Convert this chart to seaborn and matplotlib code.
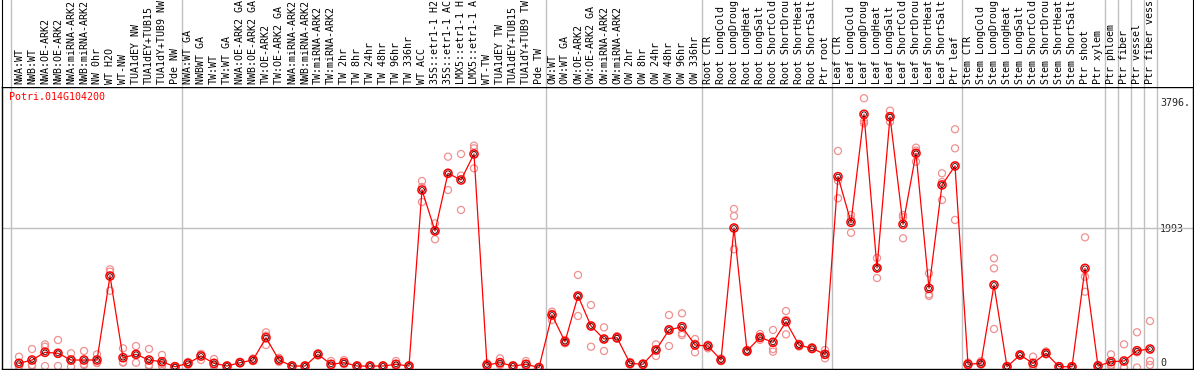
import numpy as np
import pandas as pd
import matplotlib
matplotlib.use('Agg')
import matplotlib.pyplot as plt
import seaborn as sns

# sample labels (shown truncated to 14 chars like the original)
labels = ['NWA:WT', 'NWB:WT', 'NWA:OE-ARK2', 'NWB:OE-ARK2', 'NWA:miRNA-ARK2', 'NWB:miRNA-ARK2',
          'NW 0hr', 'WT H2O', 'WT-NW', 'TUA1dEY NW', 'TUA1dEY+TUB15', 'TUA1dY+TUB9 NW', 'Pde NW',
          'NWA:WT GA', 'NWBWT GA', 'TW:WT', 'TW:WT GA', 'NWA:OE-ARK2 GA', 'NWB:OE-ARK2 GA',
          'TW:OE-ARK2', 'TW:OE-ARK2 GA', 'NWA:miRNA-ARK2', 'NWB:miRNA-ARK2', 'TW:miRNA-ARK2',
          'TW:miRNA-ARK2', 'TW 2hr', 'TW 8hr', 'TW 24hr', 'TW 48hr', 'TW 96hr', 'TW 336hr',
          'WT ACC', '35S::etr1-1 H2', '35S::etr1-1 AC', 'LMX5::etr1-1 H', 'LMX5::etr1-1 A',
          'WT-TW', 'TUA1dEY TW', 'TUA1dEY+TUB15', 'TUA1dY+TUB9 TW', 'Pde TW',
          'OW:WT', 'OW:WT GA', 'OW:OE-ARK2', 'OW:OE-ARK2 GA', 'OW:miRNA-ARK2', 'OW:miRNA-ARK2',
          'OW 2hr', 'OW 8hr', 'OW 24hr', 'OW 48hr', 'OW 96hr', 'OW 336hr',
          'Root CTR', 'Root LongCold', 'Root LongDroug', 'Root LongHeat', 'Root LongSalt',
          'Root ShortCold', 'Root ShortDrou', 'Root ShortHeat', 'Root ShortSalt', 'Ptr root',
          'Leaf CTR', 'Leaf LongCold', 'Leaf LongDroug', 'Leaf LongHeat', 'Leaf LongSalt',
          'Leaf ShortCold', 'Leaf ShortDrou', 'Leaf ShortHeat', 'Leaf ShortSalt', 'Ptr leaf',
          'Stem CTR', 'Stem LongCold', 'Stem LongDroug', 'Stem LongHeat', 'Stem LongSalt',
          'Stem ShortCold', 'Stem ShortDrou', 'Stem ShortHeat', 'Stem ShortSalt', 'Ptr shoot',
          'Ptr xylem', 'Ptr phloem', 'Ptr fiber', 'Ptr vessel', 'Ptr fiber vess']

# mean expression per sample
means = [60, 107, 217, 203, 107, 107, 107, 1307, 140, 188, 107, 83, 11,
         60, 164, 60, 21, 69, 107, 426, 107, 21, 21, 188, 46, 69, 21, 21, 21, 46, 21,
         2536, 1951, 2775, 2679, 3051, 36, 69, 21, 46, 0,
         750, 369, 1022, 593, 407, 426, 60, 46, 250, 536, 583, 321,
         307, 107, 1993, 236, 431, 360, 655, 321, 274, 188,
         2727, 2075, 3618, 1422, 3584, 2046, 3061, 1131, 2608, 2880,
         46, 60, 1179, 11, 179, 60, 203, 11, 11, 1417,
         21, 83, 93, 240, 264]

# replicate values per sample
reps = [[154, 11, 21], [264, 21, 36], [331, 297, 21], [393, 21, 195], [203, 11, 107],
        [236, 36, 50], [188, 69, 64], [1403, 1369, 1097], [274, 69, 77], [307, 69, 188],
        [264, 21, 36], [179, 21, 50], [0, 11, 21],
        [80, 60, 40], [193, 107, 190], [121, 21, 40], [11, 21, 30], [80, 60, 69],
        [130, 100, 90], [503, 321, 455], [140, 80, 100], [11, 21, 30], [11, 21, 30],
        [203, 170, 190], [93, 21, 25], [107, 50, 50], [11, 21, 30], [11, 21, 30],
        [11, 21, 30], [93, 21, 25], [11, 21, 30],
        [2665, 2365, 2580], [2060, 1832, 1960], [3012, 2536, 2779], [3051, 2741, 2251],
        [3170, 3132, 2846], [60, 21, 30], [131, 40, 36], [11, 21, 30], [93, 21, 25], [0, 0, 0],
        [679, 798, 770], [393, 345, 369], [1322, 736, 1010], [893, 297, 590], [574, 236, 410],
        [450, 410, 420], [80, 60, 40], [60, 40, 40], [331, 164, 255], [750, 307, 550],
        [774, 489, 464], [407, 217, 340],
        [274, 320, 327], [130, 100, 90], [2265, 2165, 1689], [250, 220, 240], [479, 420, 395],
        [536, 264, 226], [807, 474, 680], [340, 300, 321], [290, 260, 272], [250, 131, 185],
        [3094, 2418, 2670], [2179, 1926, 2120], [3847, 3490, 3520], [1565, 1279, 1420],
        [3670, 3512, 3570], [2179, 2146, 1846], [3141, 2941, 3100], [1346, 1046, 1022],
        [2775, 2394, 2650], [3404, 3132, 2108],
        [70, 40, 30], [90, 50, 40], [1560, 1417, 550], [0, 11, 21], [190, 170, 180],
        [155, 21, 10], [230, 190, 190], [0, 11, 21], [0, 11, 21], [1860, 1298, 1083],
        [40, 21, 0], [188, 40, 20], [331, 0, 0], [503, 0, 217], [664, 93, 36]]

gene = 'Potri.014G104200'
ytick_vals = [0, 1993, 3796]
ytick_text = ['0', '1993', '3796.']
group_breaks = [-0.6, 12.5, 40.5, 52.5, 62.5, 72.5, 83.5, 84.5, 85.5, 86.5, 87.5]

sns.set_style('white')
plt.rcParams['font.family'] = ['DejaVu Sans Mono']
fs = 7.2

#data frames
df_mean = pd.DataFrame({'pos': np.arange(len(means)), 'value': means})
df_rep = pd.DataFrame([(i, v) for i, r in enumerate(reps) for v in r], columns=['pos', 'value'])

W, H = 1194, 370
fig = plt.figure(figsize=(W / 100, H / 100), dpi=100)
ax = fig.add_axes([2 / W, 1 / H, 1191 / W, 282 / H])
axl = fig.add_axes([2 / W, 283 / H, 1191 / W, 87 / H])

xlim = (-17 / 13, 1174 / 13)
ax.set_xlim(xlim)
axl.set_xlim(xlim)
ax.set_ylim(-21.4, 4008)
axl.set_ylim(0, 1)

#group separators and mid grid line
for b in group_breaks:
    ax.axvline(b, color='#c0c0c0', lw=1, zorder=1)
    axl.axvline(b, color='#c0c0c0', lw=1, zorder=1)
ax.axhline(1993, color='#c0c0c0', lw=1, zorder=1)

#replicates
sns.scatterplot(data=df_rep, x='pos', y='value', ax=ax, marker='o', s=26,
                facecolor='none', edgecolor='#f09090', linewidth=0.9, zorder=2, legend=False)
#mean line
sns.lineplot(data=df_mean, x='pos', y='value', ax=ax, color='red', lw=0.9, zorder=3, legend=False)
sns.scatterplot(data=df_mean, x='pos', y='value', ax=ax, marker='o', s=34,
                facecolor='none', edgecolor='red', linewidth=1.1, zorder=4, legend=False)
sns.scatterplot(data=df_mean, x='pos', y='value', ax=ax, marker='o', s=12,
                facecolor='none', edgecolor='#300000', linewidth=0.6, zorder=5, legend=False)

#sample labels
for i, lab in enumerate(labels):
    axl.text(i, 0.03, lab, rotation=90, ha='center', va='bottom', fontsize=fs, color='black')

ax.text(7 / 1191, 1 - 10 / 282, gene, transform=ax.transAxes, color='red',
        fontsize=fs, ha='left', va='center')

ax.set_xticks([])
ax.set_yticks(ytick_vals)
ax.set_yticklabels(ytick_text)
ax.yaxis.tick_right()
ax.tick_params(axis='y', length=0, pad=-33 * 0.72, labelsize=fs)
tl = ax.get_yticklabels()
tl[0].set_va('bottom')
tl[0].set_x(1.0)
ax.set_xlabel('')
ax.set_ylabel('')
axl.set_xticks([])
axl.set_yticks([])

for s in ax.spines.values():
    s.set_color('black')
    s.set_linewidth(1)
axl.spines['top'].set_visible(False)
axl.spines['bottom'].set_visible(False)
axl.spines['left'].set_color('black')
axl.spines['right'].set_color('black')

fig.savefig('out.png', dpi=100)
